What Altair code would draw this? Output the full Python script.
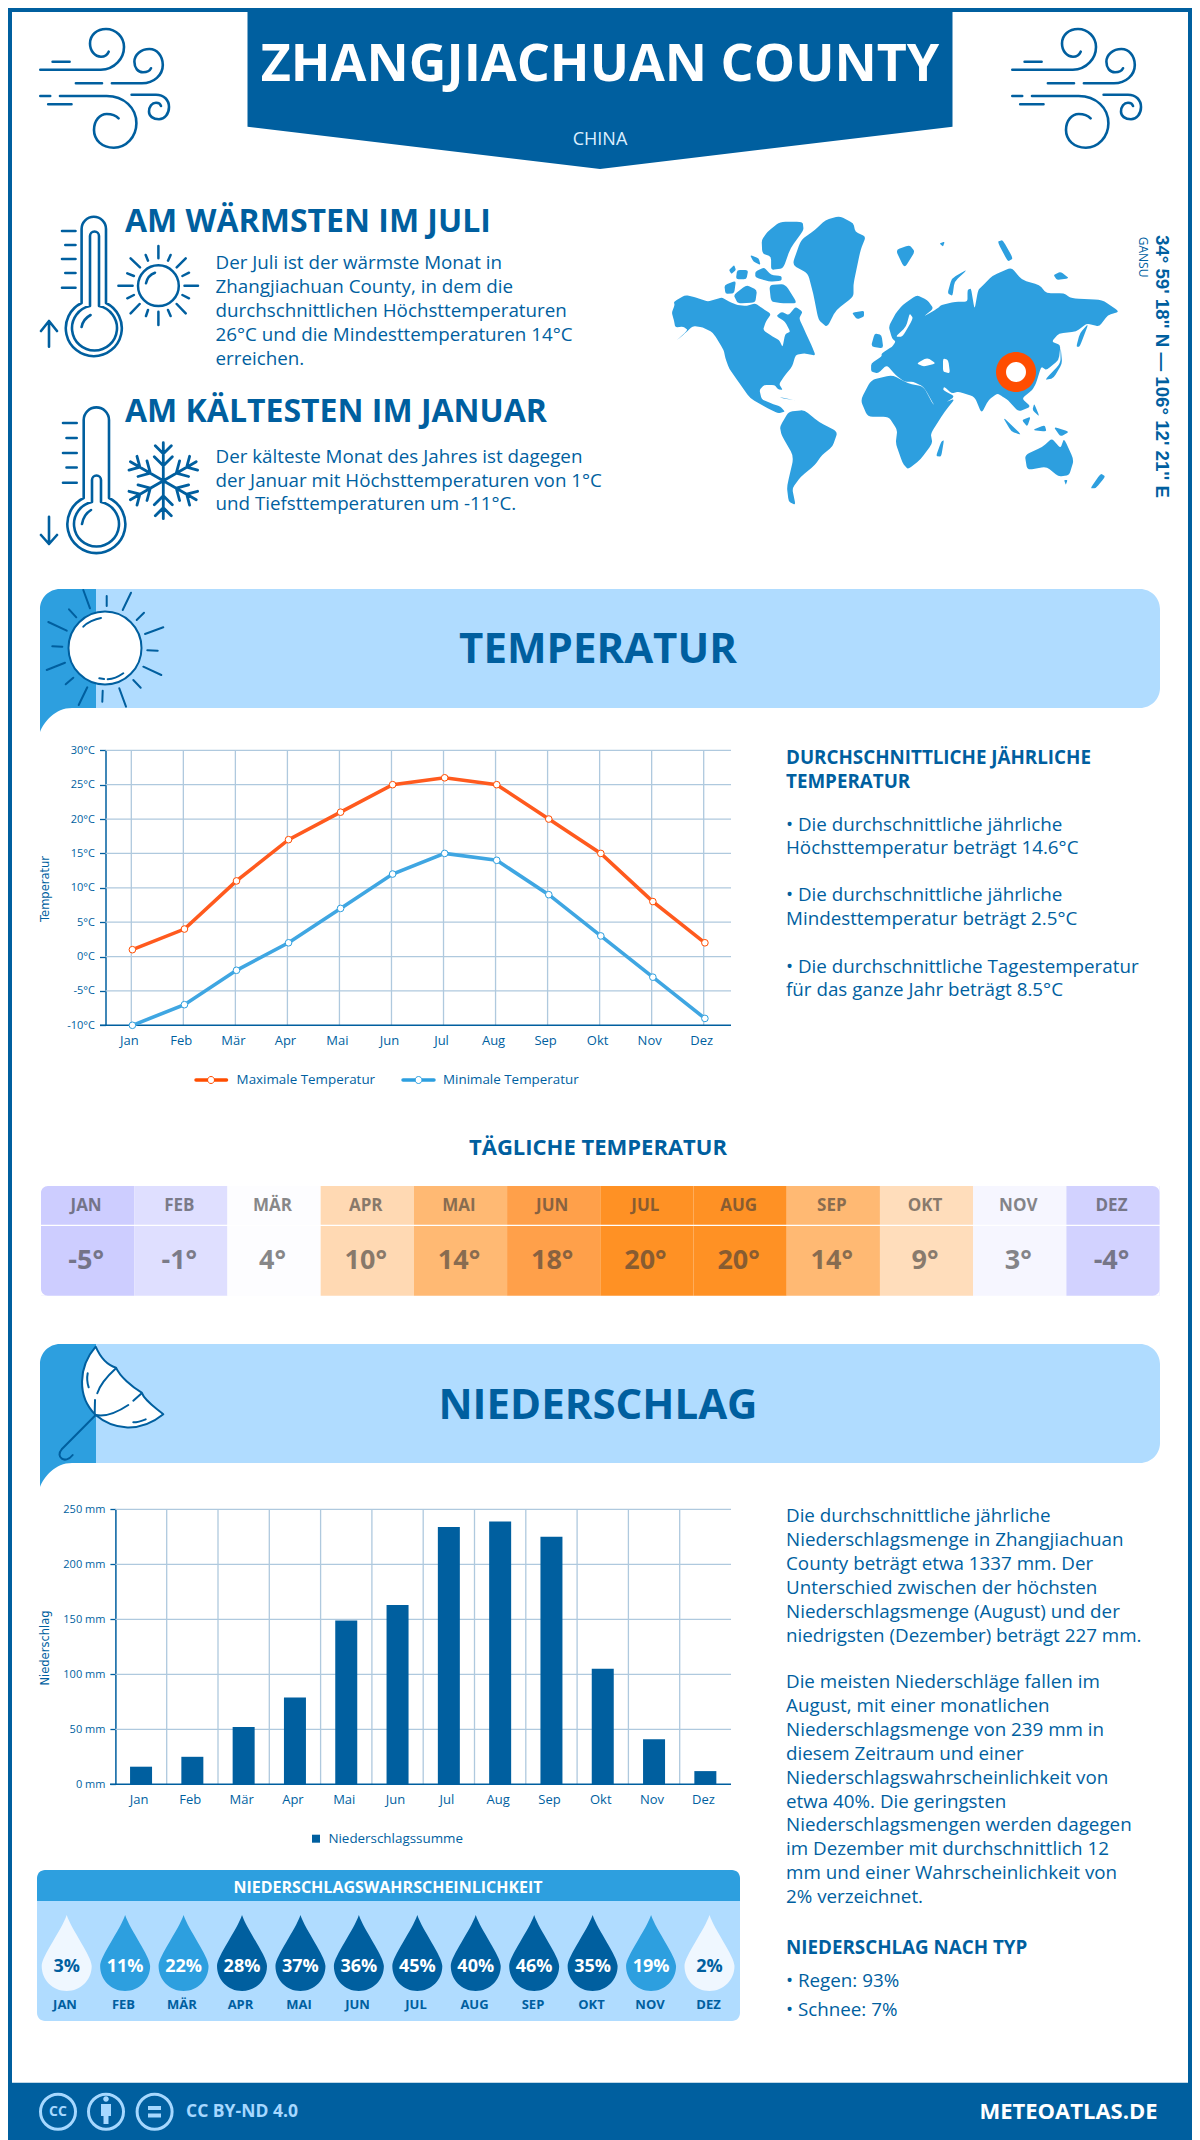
import math
import altair as alt
import pandas as pd

NAVY = "#005F9F"; MID = "#2D9FDF"; LIGHT = "#B0DCFF"; ORANGE = "#FF4D00"; GRID = "#AFC9DE"
W, H = 1184, 2132
FONT = "Open Sans"

MONTHS = ["Jan","Feb","Mär","Apr","Mai","Jun","Jul","Aug","Sep","Okt","Nov","Dez"]
MONTHS_UP = ["JAN","FEB","MÄR","APR","MAI","JUN","JUL","AUG","SEP","OKT","NOV","DEZ"]
T_MAX = [1,4,11,17,21,25,26,25,20,15,8,2]
T_MIN = [-10,-7,-2,2,7,12,15,14,9,3,-3,-9]
T_TICKS = [-10,-5,0,5,10,15,20,25,30]
DAILY = [-5,-1,4,10,14,18,20,20,14,9,3,-4]
DAILY_COL = ["#CDCDFF","#DFDFFF","#FDFDFF","#FFD9B3","#FFB973","#FFA04A","#FF9124","#FF9124","#FFB973","#FFDDBB","#F6F6FF","#D2D2FF"]
RAIN = [16,25,52,79,149,163,234,239,225,105,41,12]
R_TICKS = [0,50,100,150,200,250]
PROB = [3,11,22,28,37,36,45,40,46,35,19,2]
PROB_COL = ["#EFF7FF",MID,MID,NAVY,NAVY,NAVY,NAVY,NAVY,NAVY,NAVY,MID,"#EFF7FF"]
PROB_TXT = [NAVY,"#FFFFFF","#FFFFFF","#FFFFFF","#FFFFFF","#FFFFFF","#FFFFFF","#FFFFFF","#FFFFFF","#FFFFFF","#FFFFFF",NAVY]

WARM = ["Der Juli ist der wärmste Monat in","Zhangjiachuan County, in dem die","durchschnittlichen Höchsttemperaturen","26°C und die Mindesttemperaturen 14°C","erreichen."]
COLD = ["Der kälteste Monat des Jahres ist dagegen","der Januar mit Höchsttemperaturen von 1°C","und Tiefsttemperaturen um -11°C."]
TEMP_H = ["DURCHSCHNITTLICHE JÄHRLICHE","TEMPERATUR"]
TEMP_P = [("• Die durchschnittliche jährliche",825),("Höchsttemperatur beträgt 14.6°C",848),
          ("• Die durchschnittliche jährliche",895),("Mindesttemperatur beträgt 2.5°C",919),
          ("• Die durchschnittliche Tagestemperatur",967),("für das ganze Jahr beträgt 8.5°C",990)]
RAIN_P = ["Die durchschnittliche jährliche","Niederschlagsmenge in Zhangjiachuan","County beträgt etwa 1337 mm. Der","Unterschied zwischen der höchsten","Niederschlagsmenge (August) und der","niedrigsten (Dezember) beträgt 227 mm."]
RAIN_Q = ["Die meisten Niederschläge fallen im","August, mit einer monatlichen","Niederschlagsmenge von 239 mm in","diesem Zeitraum und einer","Niederschlagswahrscheinlichkeit von","etwa 40%. Die geringsten","Niederschlagsmengen werden dagegen","im Dezember mit durchschnittlich 12","mm und einer Wahrscheinlichkeit von","2% verzeichnet."]

one = pd.DataFrame({"a":[0]})
L = []
BODY = 18.8

def X(x): return x-8
def Y(y): return y-8

def P(path, fill=None, stroke=None, sw=2.4, dx=0, dy=0):
    kw = dict(shape=path, size=4, opacity=1, strokeCap="round", strokeJoin="round")
    if fill is not None:
        kw.update(filled=True, fill=fill)
    else:
        kw.update(filled=False)
    if stroke is not None:
        kw.update(stroke=stroke, strokeWidth=sw)
    L.append(alt.Chart(one).mark_point(**kw).encode(x=alt.value(X(dx)), y=alt.value(Y(dy))))

def T(s, x, y, size, color=NAVY, weight="normal", align="left", angle=0, font=FONT, **kw):
    L.append(alt.Chart(one).mark_text(text=s, fontSize=size, fill=color, fontWeight=weight, align=align,
                                      baseline="middle", angle=angle, font=font, **kw)
             .encode(x=alt.value(X(x)), y=alt.value(Y(y))))

def segs(pairs, sx=1, sy=1, ox=0, oy=0):
    return " ".join(f"M{a*sx+ox:.1f} {b*sy+oy:.1f} L{c*sx+ox:.1f} {d*sy+oy:.1f}" for a,b,c,d in pairs)

# ---------- frame and header
P("M0 0 H1200 V12 H0 Z M8 0 H12 V2140 H8 Z M1188 0 H1192 V2140 H1188 Z", fill=NAVY)
P("M247.5 0 H952.5 V126.7 L600 169 L247.5 126.7 Z", fill=NAVY)
T("ZHANGJIACHUAN COUNTY", 600, 65, 52, "#FFFFFF", "bold", "center")
T("CHINA", 600, 139.5, 18, "#DCEFFF", "normal", "center")

WIND = ("M52.6 61.7 H69.6 M40.3 69.7 H100.8 C115 69.7 124 58 124 47 C124 37 116 29 106 29 C97 29 90 35 90 43.5 C90 51 95 56.7 101 56.7 C105 56.7 107.5 54.5 108.7 51.7 "
        "M75.9 83.3 H102 M111.9 83.3 H142 C154 83.3 162.8 75 162.8 65 C162.8 56 157 49 149.4 49 C141 49 134.4 54.5 134.4 61.7 C134.4 68 138 72.3 143 72.3 C147 72.3 150 70.5 151 68.3 "
        "M40.3 96 H50.2 M60 96 H106.7 C124 96 136.4 108 136.4 123.3 C136.4 137 126 147.7 113.8 147.7 C102 147.7 94 140 94 130 C94 120.5 100 114 106.7 114 C112 114 116 115.5 118.6 118.3 "
        "M48.2 104.3 H71.5 M131.6 94.7 H156 C164 94.7 169 100 169 107 C169 114 164.5 119.3 159 119.3 C153 119.3 149 116 149 111.7 C149 106.5 152 102.7 156 102.7 C158.5 102.7 160.5 104 161 106")
P(WIND, stroke=NAVY, sw=2.6)
P(WIND, stroke=NAVY, sw=2.6, dx=972)

# ---------- warm / cold
P("M81.6 229 A12.2 12.2 0 0 1 106 229 V303 A28 28 0 1 1 81.6 303 Z M90 236 A4.5 4.5 0 0 1 99 236 V306 A22.5 22.5 0 1 1 90 306 Z M90.6 315 C85 318 82.5 322 81.6 327 "
  "M62 231 H75.5 M65.3 245 H75.5 M62 259 H75.5 M65.3 273 H75.5 M62 287.7 H75.5 M49 346.7 V321 M41 331 L49 321 L57 331", stroke=NAVY, sw=2.6)
P("M83.7 420 A12.6 12.6 0 0 1 109 420 V498 A29 29 0 1 1 83.7 498 Z M92 480 A4.5 4.5 0 0 1 101 480 V502 A22.5 22.5 0 1 1 92 502 Z M91 510 C86 513 83 518 82 524 "
  "M63 423 H76.7 M66.5 438 H76.7 M63 453 H76.7 M66.5 467.5 H76.7 M63 482.7 H76.7 M49 516.7 V544 M41 535 L49 544 L57 535", stroke=NAVY, sw=2.6)
SMALL_RAYS = [(118.4,285.7,132.6,285.7),(184.5,285.7,198,285.7),(158.4,246,158.4,258.3),(158.4,311.7,158.4,325),
              (130.6,258.3,140,267.3),(185.7,258.3,176.7,267.3),(130.6,313.3,139.6,304),(185.7,313.3,176.7,304),
              (145.7,255,148,260.7),(170.6,255,168,260.7),(127.3,273.3,133.9,276),(189,272.7,182.4,276),
              (127.3,298.3,133.9,295),(189,298.3,182.4,295),(146,316,148,310),(170.6,316,168,310)]
P(segs(SMALL_RAYS)+" M138 285.7 A20.4 20.4 0 1 1 178.8 285.7 A20.4 20.4 0 1 1 138 285.7 Z M146 283.3 C147 278 150 274.5 155 272.7", stroke=NAVY, sw=2.5)
flake = []
for k in range(6):
    a = math.radians(60*k+90); c, s = math.cos(a), math.sin(a)
    def rot(u, v): return (163.3+u*c-v*s, 480.7-(u*s+v*c))
    for (u1,v1,u2,v2) in [(0,0,38,0),(27,0,35,8),(27,0,35,-8),(15,0,24,9),(15,0,24,-9)]:
        p,q = rot(u1,v1), rot(u2,v2)
        flake.append((p[0],p[1],q[0],q[1]))
P(segs(flake), stroke=NAVY, sw=2.8)

T("AM WÄRMSTEN IM JULI", 125, 222, 32, NAVY, "bold")
T("AM KÄLTESTEN IM JANUAR", 125, 412, 32, NAVY, "bold")
for i, s in enumerate(WARM): T(s, 215.5, 262.5+24*i, BODY)
for i, s in enumerate(COLD): T(s, 215.5, 457+23.5*i, BODY)

# ---------- world map (schematic outline)
LAND = [
 [(62,368),(70,345),(68,335),(100,315),(130,322),(165,335),(205,322),(225,335),(250,345),(275,348),(300,340),(320,355),(345,372),(330,395),(322,420),(350,440),(368,450),(378,472),(385,432),(400,425),(385,395),(360,378),(375,365),(395,375),(415,350),(435,365),(425,385),(440,420),(460,465),(472,497),(440,490),(415,495),(405,530),(385,555),(368,582),(378,600),(365,598),(355,585),(325,585),(312,600),(318,628),(345,640),(372,650),(385,665),(365,670),(335,655),(285,625),(255,580),(225,535),(215,505),(210,480),(180,428),(150,412),(122,408),(100,430),(72,455),(108,420),(95,410),(72,412),(68,390)],
 [(335,125),(370,95),(435,95),(438,120),(400,175),(380,235),(345,240),(345,200),(320,190),(318,150)],
 [(212,285),(245,272),(240,310),(215,312)],[(238,315),(275,285),(305,300),(300,338),(250,340)],[(300,245),(325,232),(345,255),(375,258),(375,272),(340,275),(300,262)],[(340,285),(385,282),(420,340),(380,340),(345,335)],
 [(225,240),(240,225),(245,240),(232,252)],[(285,195),(310,205),(315,225),(295,215)],[(248,240),(280,240),(275,268),(245,268)],
 [(405,225),(430,150),(470,120),(500,90),(540,78),(580,100),(585,125),(615,140),(600,180),(580,280),(580,320),(530,360),(505,412),(480,390),(465,310),(450,250)],
 [(575,368),(610,362),(610,380),(590,388)],[(700,180),(740,165),(755,185),(725,235)],[(990,155),(1005,150),(1035,205),(1020,215)],
 [(825,160),(840,155),(835,170)],[(848,310),(860,265),(905,238),(868,275),(862,318)],[(1150,255),(1170,245),(1195,265),(1160,270)],
 [(640,430),(660,435),(665,475),(630,470)],
 [(630,520),(660,500),(660,490),(690,470),(700,455),(690,445),(680,410),(700,370),(720,345),(760,315),(790,330),(808,355),(780,380),(820,355),(830,345),(870,335),(905,335),(905,300),(915,295),(925,360),(935,300),(950,285),(975,258),(1030,232),(1060,270),(1110,285),(1130,310),(1180,310),(1200,325),(1290,330),(1338,365),(1305,375),(1280,410),(1245,400),(1215,425),(1165,430),(1145,455),(1170,465),(1165,510),(1130,540),(1115,530),(1100,580),(1090,600),(1060,625),(1085,650),(1050,665),(1020,630),(1005,620),(990,610),(965,630),(945,670),(925,620),(880,605),(860,610),(838,590),(835,600),(870,620),(815,655),(780,590),(750,575),(725,575),(700,555),(675,525),(650,550),(630,545)],
 [(1125,570),(1170,520),(1170,470),(1175,520),(1150,565)],[(1215,470),(1225,430),(1250,400),(1225,470)],
 [(600,630),(630,570),(690,555),(735,580),(780,590),(810,650),(870,625),(840,665),(800,730),(805,760),(770,810),(735,838),(720,820),(700,760),(705,720),(680,680),(620,680)],
 [(830,755),(838,750),(830,800),(815,798)],
 [(370,710),(395,665),(440,660),(480,695),(535,725),(520,770),(490,795),(470,825),(430,860),(405,895),(415,945),(395,935),(390,890),(410,800),(375,735)],
 [(1068,795),(1120,770),(1145,745),(1170,775),(1180,745),(1208,810),(1195,855),(1165,860),(1130,830),(1075,840)],
 [(1255,895),(1285,850),(1298,860),(1270,895)],[(1005,680),(1060,735),(1030,725)],[(1060,690),(1085,680),(1075,710)],[(1090,720),(1125,705),(1130,725)],
 [(1150,710),(1195,725),(1170,740)],[(1095,640),(1110,680),(1090,660)],[(1180,870),(1190,870),(1185,885)],[(365,620),(420,632),(380,625)],
]
WATER = [[(760,520),(790,503),(815,520),(780,530)],[(835,505),(850,510),(855,550),(835,545)],[(740,370),(750,385),(720,440),(700,440),(730,410)]]
def poly(pts, f=0.25):
    q = [(650+a/2.85, 190+b/3) for a,b in pts]
    n = len(q)
    d = ""
    for i in range(n):
        a, b, c_ = q[i-1], q[i], q[(i+1)%n]
        p0 = (b[0]+(a[0]-b[0])*f, b[1]+(a[1]-b[1])*f)
        p1 = (b[0]+(c_[0]-b[0])*f, b[1]+(c_[1]-b[1])*f)
        d += ("M" if i == 0 else " L") + "%.1f %.1f" % p0
        d += " Q%.1f %.1f %.1f %.1f" % (b[0], b[1], p1[0], p1[1])
    return d+" Z"
P(" ".join(poly(p) for p in LAND), fill=MID)
P(" ".join(poly(p) for p in WATER), fill="#FFFFFF")
P("M996 372 A20 20 0 1 1 1036 372 A20 20 0 1 1 996 372 Z", fill=ORANGE)
P("M1006 372 A10 10 0 1 1 1026 372 A10 10 0 1 1 1006 372 Z", fill="#FFFFFF")
T("34° 59' 18'' N — 106° 12' 21'' E", 1161.6, 235, 18.7, NAVY, "bold", "left", 90, "Liberation Sans")
T("GANSU", 1143, 236.7, 12, NAVY, "normal", "left", 90, FONT)

# ---------- banners
def banner(y0):
    y1, y2 = y0+119, y0+143
    P(f"M60 {y0} H1140 A20 20 0 0 1 1160 {y0+20} V{y1-20} A20 20 0 0 1 1140 {y1} H96 V{y0} Z", fill=LIGHT)
    P(f"M96 {y0} V{y1} H72 C55 {y1} 44 {y2-10} 40 {y2} V{y0+20} A20 20 0 0 1 60 {y0} Z", fill=MID)
banner(589); banner(1344)
BIG_RAYS = [(250,30,270,85),(320,48,320,78),(393,38,368,90),(432,98,410,120),(490,142,435,162),(442,211,473,212),(430,260,484,285),(400,300,422,323),
            (358,325,378,380),(308,332,307,365),(262,322,236,375),(220,293,197,313),(195,248,140,270),(157,199,187,200),(145,126,200,152),(207,88,229,112)]
P(segs(BIG_RAYS, 1/3, 1/3, 0, 580), stroke=NAVY, sw=2)
P("M68.5 648 A36.5 36.5 0 1 1 141.5 648 A36.5 36.5 0 1 1 68.5 648 Z", fill="#FFFFFF", stroke=NAVY, sw=2)
P("M83.3 626.7 C87 622.5 95 619 101 618 M99.3 678.3 L104 679 M107.7 679.3 C113 679 118 677 123.3 673.3", stroke=NAVY, sw=2)
T("TEMPERATUR", 598, 650, 42, NAVY, "bold", "center")
T("NIEDERSCHLAG", 598, 1406, 42, NAVY, "bold", "center")
def u(x, y): return f"{x/3:.1f} {1330+y/3:.1f}"
P(f"M{u(287,50)} C{u(235,110)} {u(230,200)} {u(287,255)} C{u(340,300)} {u(420,310)} {u(490,253)} C{u(470,235)} {u(435,215)} {u(425,188)} C{u(395,170)} {u(360,140)} {u(348,113)} C{u(320,105)} {u(300,80)} {u(287,50)} Z", fill="#FFFFFF", stroke=NAVY, sw=2)
P(f"M{u(287,255)} C{u(320,262)} {u(355,245)} {u(385,225)} M{u(400,212)} L{u(425,190)} M{u(348,115)} C{u(320,140)} {u(300,165)} {u(292,190)} M{u(285,210)} L{u(284,250)} "
  f"M{u(263,130)} C{u(260,145)} {u(262,160)} {u(266,172)} M{u(400,277)} C{u(415,277)} {u(425,273)} {u(437,268)} M{u(287,255)} L{u(185,358)} C{u(165,380)} {u(195,405)} {u(218,375)}", stroke=NAVY, sw=2)

# ---------- temperature chart
def grid_y(ticks, domain, y0, y1, x0, x1):
    return alt.Chart(pd.DataFrame({"v":ticks})).mark_rule(color=GRID, strokeWidth=1.3).encode(
        y=alt.Y("v:Q", scale=alt.Scale(domain=domain, range=[Y(y0),Y(y1)], nice=False, zero=False), axis=None),
        x=alt.value(X(x0)), x2=alt.value(X(x1)))

yT = alt.Scale(domain=[-10,30], range=[Y(1025.3),Y(750.3)], nice=False, zero=False)
L.append(alt.Chart(pd.DataFrame({"m":MONTHS})).mark_rule(color=GRID, strokeWidth=1.3).encode(
    x=alt.X("m:N", sort=None, scale=alt.Scale(type="point", domain=MONTHS, range=[X(131.3),X(703.7)], padding=0), axis=None),
    y=alt.value(Y(750.3)), y2=alt.value(Y(1025.3))))
L.append(grid_y(T_TICKS[1:], [-10,30], 1025.3, 750.3, 105.5, 731))
L.append(alt.Chart(pd.DataFrame({"m":MONTHS})).mark_text(opacity=0).encode(
    x=alt.X("m:N", sort=None, scale=alt.Scale(type="point", domain=MONTHS, range=[X(131.3),X(703.7)], padding=0),
            axis=alt.Axis(orient="bottom", offset=Y(1025.3)-H, title=None, labelAngle=0, domain=False, ticks=False, grid=False, tickSize=0,
                          labelPadding=9, labelOffset=-2.5, labelFont=FONT, labelFontSize=13, labelColor=NAVY)),
    text="m:N"))
L.append(alt.Chart(pd.DataFrame({"v":T_TICKS})).mark_text(opacity=0).encode(
    y=alt.Y("v:Q", scale=yT, axis=alt.Axis(orient="left", offset=-X(105.5), title=None, values=T_TICKS, grid=False, labelExpr="datum.value+'°C'",
            domainColor=NAVY, domainWidth=1.5, tickColor=NAVY, tickWidth=1.3, tickSize=6, labelPadding=5, labelFont=FONT, labelFontSize=11, labelColor=NAVY)),
    text="v:Q"))
L.append(alt.Chart(pd.DataFrame({"v":[-10]})).mark_rule(color=NAVY, strokeWidth=1.5).encode(
    y=alt.Y("v:Q", scale=yT, axis=None), x=alt.value(X(100)), x2=alt.value(X(731))))
xT = alt.Scale(type="point", domain=MONTHS, range=[X(132.4),X(704.9)], padding=0)
for vals, col in [(T_MAX, "#FF5A1E"), (T_MIN, "#3FA6E2")]:
    df = pd.DataFrame({"m":MONTHS, "v":vals})
    L.append(alt.Chart(df).mark_line(color=col, strokeWidth=3.6).encode(
        x=alt.X("m:N", sort=None, scale=xT, axis=None), y=alt.Y("v:Q", scale=yT, axis=None)))
    L.append(alt.Chart(df).mark_point(filled=True, fill="#FFFFFF", stroke=ORANGE if col=="#FF5A1E" else MID, strokeWidth=1, size=44, opacity=1).encode(
        x=alt.X("m:N", sort=None, scale=xT, axis=None), y=alt.Y("v:Q", scale=yT, axis=None)))
T("Temperatur", 46, 889, 11.5, NAVY, "normal", "center", 270, "DejaVu Sans")
P("M196 1080 H226.5", stroke=ORANGE, sw=3.5); P("M207.5 1080 A3.5 3.5 0 1 1 214.5 1080 A3.5 3.5 0 1 1 207.5 1080 Z", fill="#FFFFFF", stroke=ORANGE, sw=1)
T("Maximale Temperatur", 236.6, 1080, 13.4)
P("M403 1080 H434", stroke=MID, sw=3.5); P("M415 1080 A3.5 3.5 0 1 1 422 1080 A3.5 3.5 0 1 1 415 1080 Z", fill="#FFFFFF", stroke=MID, sw=1)
T("Minimale Temperatur", 443, 1080, 13.4)

T(TEMP_H[0], 786, 758, BODY, NAVY, "bold"); T(TEMP_H[1], 786, 781.5, BODY, NAVY, "bold")
for s, y in TEMP_P: T(s, 786, y, BODY)

# ---------- daily table
T("TÄGLICHE TEMPERATUR", 598, 1147.5, 22, NAVY, "bold", "center")
xH = alt.Scale(type="band", domain=MONTHS_UP, range=[X(41),X(1159.6)], paddingInner=0, paddingOuter=0)
dfH = pd.DataFrame({"m":MONTHS_UP, "d":DAILY, "c":DAILY_COL, "s":[f"{d}°" for d in DAILY]})
L.append(alt.Chart(dfH).mark_rect(opacity=1).encode(
    x=alt.X("m:N", sort=None, scale=xH, axis=None), y=alt.value(Y(1186)), y2=alt.value(Y(1295.7)), color=alt.Color("c:N", scale=None)))
P("M41 1225.3 H1159.6", stroke="#FFFFFF", sw=1.2)
P("M41 1186 h7 a7 7 0 0 0 -7 7 Z M1159.6 1186 h-7 a7 7 0 0 1 7 7 Z M41 1295.7 h7 a7 7 0 0 1 -7 -7 Z M1159.6 1295.7 h-7 a7 7 0 0 0 7 -7 Z", fill="#FFFFFF")
L.append(alt.Chart(dfH).mark_text(font=FONT, fontWeight="bold", fontSize=17, fill="#3A3A3A", opacity=0.6, baseline="middle", dx=-1.5).encode(
    x=alt.X("m:N", sort=None, scale=xH, axis=None), y=alt.value(Y(1206)), text="m:N"))
L.append(alt.Chart(dfH).mark_text(font=FONT, fontWeight="bold", fontSize=27, fill="#3A3A3A", opacity=0.6, baseline="middle", dx=-1.5).encode(
    x=alt.X("m:N", sort=None, scale=xH, axis=None), y=alt.value(Y(1261)), text="s:N"))

# ---------- precipitation chart
yR = alt.Scale(domain=[0,250], range=[Y(1784.3),Y(1509.3)], nice=False, zero=False)
L.append(alt.Chart(pd.DataFrame({"i":list(range(1,12))})).mark_rule(color=GRID, strokeWidth=1.3).encode(
    x=alt.X("i:Q", scale=alt.Scale(domain=[0,12], range=[X(115.4),X(731)], nice=False, zero=False), axis=None),
    y=alt.value(Y(1509.3)), y2=alt.value(Y(1784.3))))
L.append(grid_y(R_TICKS[1:], [0,250], 1784.3, 1509.3, 115.4, 731))
xR = alt.Scale(type="band", domain=MONTHS, range=[X(115.4),X(731)], paddingInner=0, paddingOuter=0)
L.append(alt.Chart(pd.DataFrame({"m":MONTHS})).mark_text(opacity=0).encode(
    x=alt.X("m:N", sort=None, scale=xR, axis=alt.Axis(orient="bottom", offset=Y(1784.3)-H, title=None, labelAngle=0, domain=False, ticks=False, grid=False, tickSize=0,
            labelPadding=9, labelOffset=-2, labelFont=FONT, labelFontSize=13, labelColor=NAVY)), text="m:N"))
L.append(alt.Chart(pd.DataFrame({"v":R_TICKS})).mark_text(opacity=0).encode(
    y=alt.Y("v:Q", scale=yR, axis=alt.Axis(orient="left", offset=-X(115.4), title=None, values=R_TICKS, grid=False, labelExpr="datum.value+' mm'",
            domainColor=NAVY, domainWidth=1.5, tickColor=NAVY, tickWidth=1.3, tickSize=5.5, labelPadding=5, labelFont=FONT, labelFontSize=11, labelColor=NAVY)),
    text="v:Q"))
L.append(alt.Chart(pd.DataFrame({"m":MONTHS,"v":RAIN})).mark_bar(color=NAVY, size=22).encode(
    x=alt.X("m:N", sort=None, scale=xR, axis=None), y=alt.Y("v:Q", scale=yR, axis=None, stack=None)))
L.append(alt.Chart(pd.DataFrame({"v":[0]})).mark_rule(color=NAVY, strokeWidth=1.5).encode(
    y=alt.Y("v:Q", scale=yR, axis=None), x=alt.value(X(110)), x2=alt.value(X(731))))
T("Niederschlag", 46, 1648, 11.5, NAVY, "normal", "center", 270, "DejaVu Sans")
P("M312 1834.7 H320 V1842.7 H312 Z", fill=NAVY)
T("Niederschlagssumme", 328.4, 1838.7, 13.4)

# ---------- probability panel
P("M37 1901 V1878 A8 8 0 0 1 45 1870 H732 A8 8 0 0 1 740 1878 V1901 Z", fill=MID)
P("M37 1901 H740 V2013 A8 8 0 0 1 732 2021 H45 A8 8 0 0 1 37 2013 Z", fill=LIGHT)
T("NIEDERSCHLAGSWAHRSCHEINLICHKEIT", 388, 1887.7, 16, "#FFFFFF", "bold", "center")
xP = alt.Scale(type="point", domain=MONTHS_UP, range=[X(66.7),X(709.5)], padding=0)
xPL = alt.Scale(type="point", domain=MONTHS_UP, range=[X(65),X(708.5)], padding=0)
dfP = pd.DataFrame({"m":MONTHS_UP, "p":PROB, "c":PROB_COL, "t":PROB_TXT, "s":[f"{p}%" for p in PROB]})
DROP = "M0 -51 C-5 -36 -25 -10 -25 0 C-25 14 -14 25 0 25 C14 25 25 14 25 0 C25 -10 5 -36 0 -51 Z"
L.append(alt.Chart(dfP).mark_point(shape=DROP, size=4, filled=True, opacity=1).encode(
    x=alt.X("m:N", sort=None, scale=xP, axis=None), y=alt.value(Y(1966)), fill=alt.Fill("c:N", scale=None)))
L.append(alt.Chart(dfP).mark_text(font=FONT, fontWeight="bold", fontSize=18, baseline="middle").encode(
    x=alt.X("m:N", sort=None, scale=xP, axis=None), y=alt.value(Y(1966.7)), text="s:N", fill=alt.Fill("t:N", scale=None)))
L.append(alt.Chart(dfP).mark_text(font=FONT, fontWeight="bold", fontSize=13, baseline="middle", fill=NAVY).encode(
    x=alt.X("m:N", sort=None, scale=xPL, axis=None), y=alt.value(Y(2004.7)), text="m:N"))

# ---------- precipitation text
for i, s in enumerate(RAIN_P): T(s, 786, 1516+23.9*i, BODY)
for i, s in enumerate(RAIN_Q): T(s, 786, 1682+23.9*i, BODY)
T("NIEDERSCHLAG NACH TYP", 786, 1948, BODY, NAVY, "bold")
T("• Regen: 93%", 786, 1981, BODY); T("• Schnee: 7%", 786, 2010, BODY)

# ---------- footer
P("M0 2082.7 H1200 V2140 H0 Z", fill=NAVY)
def circ(cx, cy, r): return f"M{cx-r} {cy} A{r} {r} 0 1 1 {cx+r} {cy} A{r} {r} 0 1 1 {cx-r} {cy} Z"
CC = "#A6D8FF"
P(circ(58,2111.7,17.5)+" "+circ(106,2111.7,17.5)+" "+circ(154.6,2111.7,17.5), stroke=CC, sw=3)
T("CC", 58, 2111.7, 14, CC, "bold", "center")
P("M101 2104 H111 V2116 H108.5 V2124 H103.5 V2116 H101 Z "+circ(106,2099,2.8), fill=CC)
P("M148 2106 H161 V2110 H148 Z M148 2113.5 H161 V2117.5 H148 Z", fill=CC)
T("CC BY-ND 4.0", 186, 2112, 17.5, CC, "bold")
T("METEOATLAS.DE", 1157.6, 2112, 22, "#FFFFFF", "bold", "right")

chart = alt.layer(*L).resolve_scale(x="independent", y="independent").resolve_axis(x="independent", y="independent").properties(
    width=W, height=H, padding=0, autosize=alt.AutoSizeParams(type="none", contains="padding"),
    background="#FFFFFF").configure_view(stroke=None)
chart.save("out.html", embed_options={"renderer": "svg", "actions": False})
